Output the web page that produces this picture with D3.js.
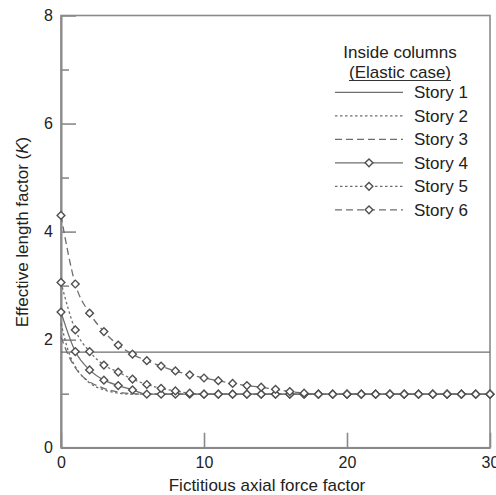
<!DOCTYPE html>
<html><head><meta charset="utf-8">
<script src="https://cdn.jsdelivr.net/npm/d3@7"></script>
<style>body{margin:0;background:#fff}svg{display:block}text{font-family:"Liberation Sans",Arial,sans-serif;fill:#222}</style>
</head><body><svg id="c" width="496" height="495"></svg>
<script>
// ---- data ----
const xTicks = [0, 10, 20, 30];
const yTicks = [0, 2, 4, 6, 8];
const yMinorTicks = [1, 3, 5, 7];
const seriesNames = ["Story 1","Story 2","Story 3","Story 4","Story 5","Story 6"];
const xInt = [0,1,2,3,4,5,6,7,8,9,10,11,12,13,14,15,16,17,18,19,20,21,22,23,24,25,26,27,28,29,30];
const story1X = [0, 30];
const story1K = [1.77, 1.77];
const story2X = [0, 0.5, 1, 1.5, 2, 3, 4, 5, 30];
const story2K = [2.30, 1.80, 1.50, 1.32, 1.20, 1.07, 1.01, 0.99, 0.99];
const story3X = [0, 0.5, 1, 1.5, 2, 3, 4, 5, 6, 30];
const story3K = [2.05, 1.72, 1.48, 1.32, 1.22, 1.10, 1.03, 1.00, 0.99, 0.99];
const story4K = [2.51,1.78,1.44,1.25,1.15,1.07,0.99,0.99,0.99,0.99,0.99,0.99,0.99,0.99,0.99,0.99,0.99,0.99,0.99,0.99,0.99,0.99,0.99,0.99,0.99,0.99,0.99,0.99,0.99,0.99,0.99];
const story5K = [3.06,2.18,1.78,1.53,1.40,1.27,1.17,1.10,1.05,1.01,0.99,0.99,0.99,0.99,0.99,0.99,0.99,0.99,0.99,0.99,0.99,0.99,0.99,0.99,0.99,0.99,0.99,0.99,0.99,0.99,0.99];
const story6K = [4.30,3.03,2.49,2.15,1.90,1.73,1.61,1.51,1.42,1.35,1.29,1.24,1.19,1.15,1.12,1.08,1.04,1.01,0.99,0.99,0.99,0.99,0.99,0.99,0.99,0.99,0.99,0.99,0.99,0.99,0.99];

// ---- layout ----
const svg = d3.select("#c");
const L = 61, R = 490, T = 15.5, B = 447.7;
const x = d3.scaleLinear().domain([0, 30]).range([L, R]);
const y = d3.scaleLinear().domain([0, 8]).range([B, T]);
const axisCol = "#8a8a8a";

const series = [
  {name: seriesNames[0], xs: story1X, ks: story1K, dash: null, marker: false},
  {name: seriesNames[1], xs: story2X, ks: story2K, dash: "2.5,2.5", marker: false},
  {name: seriesNames[2], xs: story3X, ks: story3K, dash: "7,4", marker: false},
  {name: seriesNames[3], xs: xInt, ks: story4K, dash: null, marker: true},
  {name: seriesNames[4], xs: xInt, ks: story5K, dash: "2.5,2.5", marker: true},
  {name: seriesNames[5], xs: xInt, ks: story6K, dash: "7,4", marker: true}
];

const line = d3.line().x(d => x(d[0])).y(d => y(d[1])).curve(d3.curveMonotoneX);
const diamond = d3.symbol(d3.symbolSquare, 30);

// frame
svg.append("rect").attr("x", L).attr("y", T).attr("width", R - L).attr("height", B - T)
  .attr("fill", "none").attr("stroke", axisCol).attr("stroke-width", 1.6);

// axes
const gx = svg.append("g").attr("transform", `translate(0,${B})`)
  .call(d3.axisBottom(x).tickValues(xTicks).tickSizeInner(-15).tickSizeOuter(0).tickPadding(9).tickFormat(d3.format("d")));
const gy = svg.append("g").attr("transform", `translate(${L},0)`)
  .call(d3.axisLeft(y).tickValues(yTicks).tickSizeInner(-15).tickSizeOuter(0).tickPadding(8).tickFormat(d3.format("d")));
const gym = svg.append("g").attr("transform", `translate(${L},0)`)
  .call(d3.axisLeft(y).tickValues(yMinorTicks).tickSizeInner(-8).tickSizeOuter(0).tickFormat(""));
[gx, gy, gym].forEach(g => {
  g.select(".domain").attr("stroke", axisCol).attr("stroke-width", 1.6);
  g.selectAll(".tick line").attr("stroke", axisCol).attr("stroke-width", 1.6);
  g.selectAll(".tick text").attr("font-size", 16).attr("fill", "#222")
    .style("font-family", '"Liberation Sans",Arial,sans-serif');
});
gx.selectAll(".tick text").attr("dy", "0.71em");

// series
const gS = svg.append("g");
series.forEach(s => {
  const pts = s.xs.map((v, i) => [v, s.ks[i]]);
  gS.append("path").attr("d", line(pts)).attr("fill", "none")
    .attr("stroke", "#6e6e6e").attr("stroke-width", 1.3)
    .attr("stroke-dasharray", s.dash);
});
series.filter(s => s.marker).forEach(s => {
  gS.selectAll(null).data(s.xs.map((v, i) => [v, s.ks[i]])).join("path")
    .attr("d", diamond)
    .attr("transform", d => `translate(${x(d[0])},${y(d[1])}) rotate(45)`)
    .attr("fill", "#fff").attr("stroke", "#505050").attr("stroke-width", 1.4);
});

// axis titles
svg.append("text").attr("x", 267).attr("y", 491).attr("text-anchor", "middle")
  .attr("font-size", 17).text("Fictitious axial force factor");
const yl = svg.append("text").attr("transform", "translate(28,232) rotate(-90)")
  .attr("text-anchor", "middle").attr("font-size", 17);
yl.append("tspan").text("Effective length factor (");
yl.append("tspan").attr("font-style", "italic").text("K");
yl.append("tspan").text(")");

// legend
const lg = svg.append("g");
lg.append("text").attr("x", 400).attr("y", 58).attr("text-anchor", "middle").attr("font-size", 17).text("Inside columns");
const sub = lg.append("text").attr("x", 400).attr("y", 78).attr("text-anchor", "middle").attr("font-size", 17)
  .text("(Elastic case)");
const bb = sub.node().getBBox();
lg.append("line").attr("x1", bb.x).attr("x2", bb.x + bb.width).attr("y1", 80.5).attr("y2", 80.5)
  .attr("stroke", "#333").attr("stroke-width", 1);
series.forEach((s, i) => {
  const yy = 92.3 + i * 23.5;
  lg.append("line").attr("x1", 335).attr("x2", 403).attr("y1", yy).attr("y2", yy)
    .attr("stroke", "#6e6e6e").attr("stroke-width", 1.3).attr("stroke-dasharray", s.dash);
  if (s.marker) {
    lg.append("path").attr("d", diamond).attr("transform", `translate(369,${yy}) rotate(45)`)
      .attr("fill", "#fff").attr("stroke", "#505050").attr("stroke-width", 1.4);
  }
  lg.append("text").attr("x", 414).attr("y", yy + 6).attr("font-size", 17).text(s.name);
});
</script></body></html>
